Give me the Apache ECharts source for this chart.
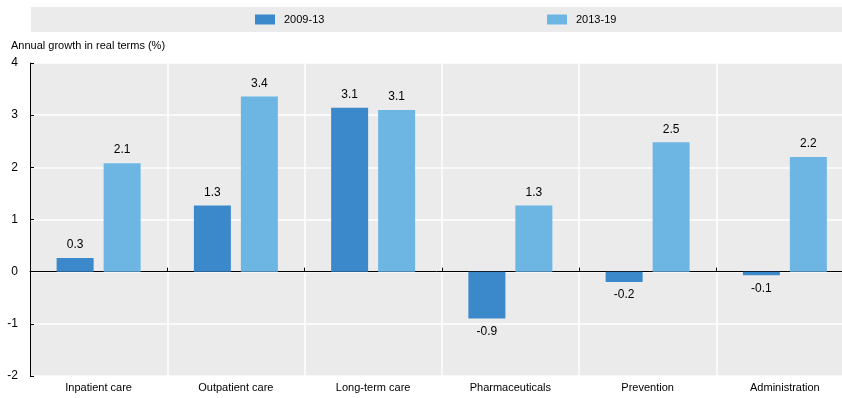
<!DOCTYPE html>
<html lang="en">
<head>
    <meta charset="UTF-8">
    <title>Annual growth in real terms</title>
    <script src="https://cdn.jsdelivr.net/npm/echarts@6/dist/echarts.min.js"></script>
</head>
<style>
    html, body {
        margin: 0;
        padding: 0;
        background: #ffffff;
    }
    #map {
        width: 842px;
        height: 398px;
    }
</style>
<body>
<div id="map"></div>
<script>
    var categories = ['Inpatient care', 'Outpatient care', 'Long-term care', 'Pharmaceuticals', 'Prevention', 'Administration'];
    var series1Name = '2009-13';
    var series2Name = '2013-19';
    var values0913 = [0.26, 1.27, 3.14, -0.9, -0.2, -0.07];
    var values1319 = [2.08, 3.36, 3.1, 1.27, 2.48, 2.2];
    var yTicks = [-2, -1, 0, 1, 2, 3, 4];

    var FONT = '"Liberation Sans Narrow", "Arial Narrow", "Liberation Sans", Arial, sans-serif';
    var FS = 11;

    // positive labels above the bar, negative ones below
    function withLabels(values) {
        return values.map(function (v) {
            return {
                value: v,
                label: {position: v < 0 ? 'bottom' : 'top'}
            };
        });
    }

    var map = echarts.init(document.getElementById('map'));
    var option = {
        animation: false,
        textStyle: {fontFamily: FONT},
        title: {
            text: 'Annual growth in real terms (%)',
            left: 11,
            top: 40,
            padding: 0,
            textStyle: {fontFamily: FONT, fontSize: FS, fontWeight: 'normal', color: '#000'}
        },
        graphic: [{
            type: 'rect',
            left: 31,
            top: 7,
            shape: {width: 811, height: 25},
            style: {fill: '#ebebeb'},
            z: -1
        }],
        legend: [{
            data: [series1Name],
            left: 255,
            top: 14,
            padding: 0,
            itemWidth: 20,
            itemHeight: 10,
            icon: 'rect',
            textStyle: {fontFamily: FONT, fontSize: FS, color: '#000', padding: [0, 0, 0, 4]}
        }, {
            data: [series2Name],
            left: 547,
            top: 14,
            padding: 0,
            itemWidth: 20,
            itemHeight: 10,
            icon: 'rect',
            textStyle: {fontFamily: FONT, fontSize: FS, color: '#000', padding: [0, 0, 0, 4]}
        }],
        grid: {
            left: 30,
            top: 63,
            width: 823.5,
            height: 313,
            outerBoundsMode: 'none',
            show: true,
            backgroundColor: '#ebebeb',
            borderWidth: 0
        },
        xAxis: [{
            type: 'category',
            data: categories,
            position: 'bottom',
            axisLine: {show: false, onZero: false},
            axisTick: {show: false},
            axisLabel: {fontFamily: FONT, fontSize: FS, color: '#000', margin: 6},
            splitLine: {show: true, lineStyle: {color: '#ffffff', width: 1.5}}
        }, {
            type: 'category',
            data: categories,
            position: 'bottom',
            axisLine: {show: true, onZero: true, lineStyle: {color: '#000', width: 1}},
            axisTick: {show: true, inside: true, length: 4, lineStyle: {color: '#000'}},
            axisLabel: {show: false},
            splitLine: {show: false}
        }],
        yAxis: {
            type: 'value',
            min: yTicks[0],
            max: yTicks[yTicks.length - 1],
            interval: 1,
            axisLine: {show: true, lineStyle: {color: '#000', width: 1}},
            axisTick: {show: true, inside: true, length: 4, lineStyle: {color: '#000'}},
            axisLabel: {fontFamily: FONT, fontSize: FS + 1, color: '#000', margin: 12},
            splitLine: {show: true, lineStyle: {color: '#ffffff', width: 1.5}}
        },
        series: [{
            name: series1Name,
            type: 'bar',
            xAxisIndex: 0,
            data: withLabels(values0913),
            barWidth: 37,
            barGap: '27%',
            itemStyle: {color: '#3b89cb'},
            label: {
                show: true,
                distance: 7,
                fontFamily: FONT,
                fontSize: FS + 1,
                color: '#000',
                formatter: function (p) { return p.value.toFixed(1); }
            }
        }, {
            name: series2Name,
            type: 'bar',
            xAxisIndex: 0,
            data: withLabels(values1319),
            barWidth: 37,
            barGap: '27%',
            itemStyle: {color: '#6db6e4'},
            label: {
                show: true,
                distance: 7,
                fontFamily: FONT,
                fontSize: FS + 1,
                color: '#000',
                formatter: function (p) { return p.value.toFixed(1); }
            }
        }]
    };
    map.setOption(option);
</script>
</body>
</html>
